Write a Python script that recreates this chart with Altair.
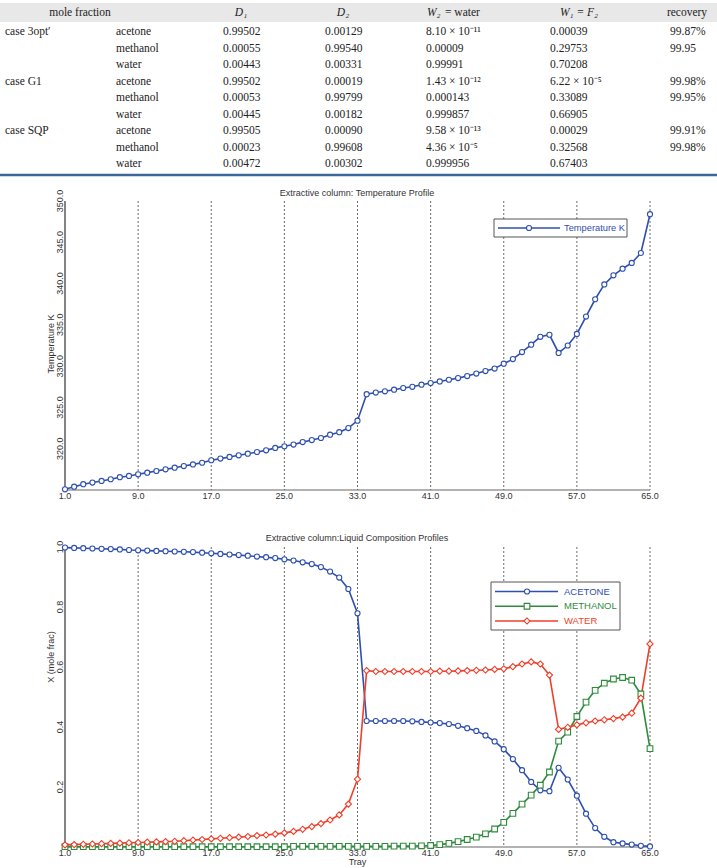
import altair as alt
import pandas as pd

# ---------------- table data ----------------
row_case = ["case 3opt′", "", "", "case G1", "", "", "case SQP", "", ""]
row_species = ["acetone", "methanol", "water"] * 3
col_D1 = ["0.99502", "0.00055", "0.00443", "0.99502", "0.00053", "0.00445", "0.99505", "0.00023", "0.00472"]
col_D2 = ["0.00129", "0.99540", "0.00331", "0.00019", "0.99799", "0.00182", "0.00090", "0.99608", "0.00302"]
col_W2 = ["8.10 × 10⁻¹¹", "0.00009", "0.99991", "1.43 × 10⁻¹²", "0.000143", "0.999857",
          "9.58 × 10⁻¹³", "4.36 × 10⁻⁵", "0.999956"]
col_W1 = ["0.00039", "0.29753", "0.70208", "6.22 × 10⁻⁵", "0.33089", "0.66905", "0.00029", "0.32568", "0.67403"]
col_rec = ["99.87%", "99.95", "", "99.98%", "99.95%", "", "99.91%", "99.98%", ""]
header_text = ["mole fraction", "D₁", "D₂", "W₂", "= water", "W₁ = F₂", "recovery"]

# ---------------- chart data ----------------
trays = list(range(1, 66))
temperature = [315.08, 315.4, 315.7, 315.9, 316.1, 316.3, 316.55, 316.7, 316.9, 317.1,
               317.3, 317.5, 317.7, 317.9, 318.1, 318.3, 318.6, 318.8, 319.0, 319.2,
               319.4, 319.6, 319.8, 320.1, 320.3, 320.5, 320.8, 321.05, 321.3, 321.7,
               322.0, 322.5, 323.4,
               326.6, 326.8, 326.95, 327.15, 327.35, 327.5, 327.75, 327.95, 328.15, 328.35,
               328.55, 328.8, 329.1, 329.4, 329.7, 330.3, 330.85, 331.7, 332.6, 333.55,
               333.8, 331.6, 332.5, 333.9, 336.0, 338.1, 339.9, 341.0, 341.8, 342.5, 343.7, 348.4]
acetone = [0.998, 0.997, 0.996, 0.995, 0.994, 0.993, 0.992, 0.990, 0.989, 0.988,
           0.987, 0.986, 0.985, 0.984, 0.983, 0.981, 0.979, 0.977, 0.975, 0.973,
           0.971, 0.968, 0.966, 0.963, 0.959, 0.955, 0.949, 0.943, 0.933, 0.918,
           0.898, 0.860, 0.779,
           0.420, 0.420, 0.420, 0.420, 0.420, 0.419, 0.417, 0.415, 0.413, 0.410,
           0.404, 0.396, 0.387, 0.372, 0.352, 0.326, 0.293, 0.256, 0.217, 0.189,
           0.186, 0.264, 0.225, 0.171, 0.111, 0.063, 0.034, 0.016, 0.012, 0.008, 0.004, 0.002]
methanol = [0.001, 0.001, 0.001, 0.001, 0.001, 0.001, 0.001, 0.001, 0.001, 0.001,
            0.001, 0.001, 0.001, 0.001, 0.001, 0.001, 0.001, 0.001, 0.001, 0.001,
            0.001, 0.001, 0.001, 0.001, 0.001, 0.002, 0.002, 0.002, 0.002, 0.002,
            0.002, 0.002, 0.002,
            0.002, 0.002, 0.002, 0.003, 0.003, 0.003, 0.004, 0.005, 0.008, 0.012,
            0.018, 0.025, 0.033, 0.044, 0.060, 0.082, 0.112, 0.143, 0.173, 0.206,
            0.250, 0.353, 0.383, 0.435, 0.483, 0.522, 0.546, 0.560, 0.565, 0.556, 0.510, 0.328]
water = [0.007, 0.008, 0.009, 0.010, 0.011, 0.012, 0.013, 0.014, 0.015, 0.016,
         0.017, 0.018, 0.019, 0.021, 0.023, 0.025, 0.027, 0.029, 0.031, 0.033,
         0.035, 0.038, 0.040, 0.043, 0.047, 0.052, 0.059, 0.068, 0.078, 0.090,
         0.107, 0.143, 0.226,
         0.588, 0.585, 0.585, 0.585, 0.585, 0.585, 0.585, 0.585, 0.586, 0.586,
         0.587, 0.588, 0.589, 0.590, 0.592, 0.594, 0.601, 0.610, 0.617, 0.610,
         0.573, 0.392, 0.399, 0.407, 0.414, 0.420, 0.424, 0.428, 0.433, 0.446, 0.496, 0.677]
series = ["ACETONE", "METHANOL", "WATER"]
x_ticks = [1, 9, 17, 25, 33, 41, 49, 57, 65]
temp_ticks = [320, 325, 330, 335, 340, 345, 350]
comp_ticks = [0.2, 0.4, 0.6, 0.8, 1.0]
temp_title = "Extractive column: Temperature Profile"
comp_title = "Extractive column:Liquid Composition Profiles"
temp_ytitle = "Temperature K"
comp_ytitle = "X  (mole frac)"
comp_xtitle = "Tray"

# ---------------- layout / style ----------------
W, H = 717, 868
SERIF = "Liberation Serif"
SANS = "Liberation Sans"
BLUE, GREEN, RED = "#2f4fb0", "#2e8b3c", "#ef3f2b"
series_colors = [BLUE, GREEN, RED]
X_L, X_R = 65, 650
T_TOP, T_BOT = 201, 490
C_TOP, C_BOT = 547, 847
TXT = "#333333"
one = pd.DataFrame({"k": [0]})

# ================= table =================
df_tab = pd.DataFrame({"row": list(range(9)), "case": row_case, "species": row_species,
                       "D1": col_D1, "D2": col_D2, "W2": col_W2, "W1": col_W1, "rec": col_rec})
row_y = alt.Y("row:O", scale=alt.Scale(type="point", domain=list(range(9)), range=[32, 164], padding=0),
              axis=None)

tab_layers = [
    alt.Chart(one).mark_rect(color="#e8e8e8").encode(
        x=alt.value(0), x2=alt.value(W), y=alt.value(3), y2=alt.value(22)),
    alt.Chart(one).mark_rule(color="#3a6898", strokeWidth=2.5).encode(
        x=alt.value(0), x2=alt.value(W), y=alt.value(175)),
]
for field, xpos in [("case", 5), ("species", 116), ("D1", 223), ("D2", 325),
                    ("W2", 426), ("W1", 550), ("rec", 670)]:
    tab_layers.append(
        alt.Chart(df_tab).mark_text(align="left", baseline="middle", font=SERIF, fontSize=11.5,
                                    color="#222222").encode(x=alt.value(xpos), y=row_y,
                                                            text=f"{field}:N"))
hdr_pos = [(80, "center", "normal"), (241, "center", "italic"), (343, "center", "italic"),
           (427, "left", "italic"), (445, "left", "normal"), (579, "center", "italic"),
           (687, "center", "normal")]
for label, (xpos, al, st) in zip(header_text, hdr_pos):
    tab_layers.append(
        alt.Chart(pd.DataFrame({"label": [label]})).mark_text(
            align=al, baseline="middle", font=SERIF, fontSize=11.5, fontStyle=st, color="#222222"
        ).encode(x=alt.value(xpos), y=alt.value(13), text="label:N"))
table = alt.layer(*tab_layers)


# ================= panel builder (scales, axis lines, tick labels, grid) =================
def panel_frame(ydom, ytop, ybot, yticks, ytitle, ytitle_y, xtitle=None):
    xs = alt.Scale(domain=[1, 65], range=[X_L, X_R], nice=False, zero=False)
    ys = alt.Scale(domain=ydom, range=[ybot, ytop], nice=False, zero=False)
    y0, y1 = ydom
    layers = [
        # dotted vertical grid at each x tick
        alt.Chart(pd.DataFrame({"tick": x_ticks[1:]})).mark_rule(
            color="#444444", strokeDash=[2, 2], strokeWidth=0.8).encode(
            x=alt.X("tick:Q", scale=xs, axis=None),
            y=alt.YDatum(y1, scale=ys, axis=None), y2=alt.Y2Datum(y0)),
        # y axis line
        alt.Chart(one).mark_rule(color="#333333", strokeWidth=1.2).encode(
            x=alt.XDatum(1, scale=xs, axis=None),
            y=alt.YDatum(y1, scale=ys, axis=None), y2=alt.Y2Datum(y0)),
        # x axis line
        alt.Chart(one).mark_rule(color="#666666", strokeWidth=1.2).encode(
            x=alt.XDatum(1, scale=xs, axis=None), x2=alt.X2Datum(65),
            y=alt.YDatum(y0, scale=ys, axis=None)),
        # x tick labels
        alt.Chart(pd.DataFrame({"tick": x_ticks})).mark_text(
            baseline="top", align="center", dy=1.5, font=SANS, fontSize=9, color=TXT).encode(
            x=alt.X("tick:Q", scale=xs, axis=None),
            y=alt.YDatum(y0, scale=ys, axis=None),
            text=alt.Text("tick:Q", format=".1f")),
        # y tick labels (rotated)
        alt.Chart(pd.DataFrame({"v": yticks})).mark_text(
            angle=270, baseline="bottom", align="center", font=SANS, fontSize=9, color=TXT).encode(
            x=alt.XDatum(1, scale=xs, axis=None),
            y=alt.Y("v:Q", scale=ys, axis=None),
            text=alt.Text("v:Q", format=".1f")),
        # y title
        alt.Chart(pd.DataFrame({"t": [ytitle]})).mark_text(
            angle=270, baseline="bottom", align="center", font=SANS, fontSize=9, color=TXT).encode(
            x=alt.value(56), y=alt.value(ytitle_y), text="t:N"),
    ]
    if xtitle:
        layers.append(
            alt.Chart(pd.DataFrame({"t": [xtitle]})).mark_text(
                baseline="middle", align="center", font=SANS, fontSize=9, color=TXT).encode(
                x=alt.value((X_L + X_R) / 2), y=alt.value(862), text="t:N"))
    return xs, ys, layers


# ================= temperature chart =================
df_T = pd.DataFrame({"tray": trays, "T": temperature})
xsT, ysT, frameT = panel_frame([315, 350], T_TOP, T_BOT, temp_ticks, temp_ytitle, 344)
temp_line = alt.Chart(df_T).mark_line(color=BLUE, strokeWidth=1.6).encode(
    x=alt.X("tray:Q", scale=xsT, axis=None), y=alt.Y("T:Q", scale=ysT, axis=None))
temp_pts = alt.Chart(df_T).mark_point(shape="circle", fill="white", stroke=BLUE, strokeWidth=1.1,
                                      size=26, opacity=1).encode(
    x=alt.X("tray:Q", scale=xsT, axis=None), y=alt.Y("T:Q", scale=ysT, axis=None))
temp = alt.layer(*frameT, temp_line, temp_pts)

df_tleg = pd.DataFrame({"label": ["Temperature K"]})
temp_leg = alt.layer(
    alt.Chart(df_tleg).mark_rect(fill="white", stroke="#555555", strokeWidth=1).encode(
        x=alt.value(494), x2=alt.value(627), y=alt.value(219), y2=alt.value(237)),
    alt.Chart(df_tleg).mark_rule(color=BLUE, strokeWidth=1.6).encode(
        x=alt.value(498), x2=alt.value(560), y=alt.value(228)),
    alt.Chart(df_tleg).mark_point(shape="circle", fill="white", stroke=BLUE, strokeWidth=1.1,
                                  size=26, opacity=1).encode(x=alt.value(529), y=alt.value(228)),
    alt.Chart(df_tleg).mark_text(align="left", baseline="middle", font=SANS, fontSize=9.3,
                                 color=BLUE).encode(x=alt.value(564), y=alt.value(228),
                                                    text="label:N"),
)

# ================= composition chart =================
df_C = pd.DataFrame({
    "tray": trays * 3,
    "species": [series[0]] * 65 + [series[1]] * 65 + [series[2]] * 65,
    "x": acetone + methanol + water,
})
stroke_enc = alt.Stroke("species:N", scale=alt.Scale(domain=series, range=series_colors), legend=None)
shape_enc = alt.Shape("species:N", scale=alt.Scale(domain=series, range=["circle", "square", "diamond"]),
                      legend=None)
size_enc = alt.Size("species:N", scale=alt.Scale(domain=series, range=[26, 38, 34]), legend=None)

xsC, ysC, frameC = panel_frame([0, 1], C_TOP, C_BOT, comp_ticks, comp_ytitle, 657, comp_xtitle)
comp_line = alt.Chart(df_C).mark_line(strokeWidth=1.6).encode(
    x=alt.X("tray:Q", scale=xsC, axis=None), y=alt.Y("x:Q", scale=ysC, axis=None),
    stroke=stroke_enc, detail="species:N")
comp_pts = alt.Chart(df_C).mark_point(fill="white", strokeWidth=1.1, opacity=1).encode(
    x=alt.X("tray:Q", scale=xsC, axis=None), y=alt.Y("x:Q", scale=ysC, axis=None),
    stroke=stroke_enc, shape=shape_enc, size=size_enc)
comp = alt.layer(*frameC, comp_line, comp_pts)

df_cleg = pd.DataFrame({"species": series})
leg_y = alt.Y("species:N", scale=alt.Scale(type="point", domain=series, range=[591.5, 621], padding=0),
              axis=None)
comp_leg = alt.layer(
    alt.Chart(one).mark_rect(fill="white", stroke="#555555", strokeWidth=1).encode(
        x=alt.value(491), x2=alt.value(620), y=alt.value(582), y2=alt.value(630)),
    alt.Chart(df_cleg).mark_rule(strokeWidth=1.6).encode(
        x=alt.value(495), x2=alt.value(558), y=leg_y, stroke=stroke_enc),
    alt.Chart(df_cleg).mark_point(fill="white", strokeWidth=1.1, opacity=1).encode(
        x=alt.value(527), y=leg_y, stroke=stroke_enc, shape=shape_enc, size=size_enc),
    alt.Chart(df_cleg).mark_text(align="left", baseline="middle", font=SANS, fontSize=9.5).encode(
        x=alt.value(564), y=leg_y, text="species:N",
        color=alt.Color("species:N", scale=alt.Scale(domain=series, range=series_colors), legend=None)),
)

# ================= chart titles =================
titles = alt.layer(
    alt.Chart(pd.DataFrame({"t": [temp_title]})).mark_text(
        align="center", baseline="middle", font=SANS, fontSize=9, color=TXT).encode(
        x=alt.value(357), y=alt.value(193), text="t:N"),
    alt.Chart(pd.DataFrame({"t": [comp_title]})).mark_text(
        align="center", baseline="middle", font=SANS, fontSize=9, color=TXT).encode(
        x=alt.value(357), y=alt.value(538), text="t:N"),
)

chart = alt.layer(table, temp, temp_leg, comp, comp_leg, titles).resolve_scale(
    x="independent", y="independent"
).properties(
    width=W, height=H, autosize=alt.AutoSizeParams(type="none"), padding=0, background="white"
).configure_view(stroke=None)

chart.save("out.html", embed_options={"renderer": "svg", "actions": False})
